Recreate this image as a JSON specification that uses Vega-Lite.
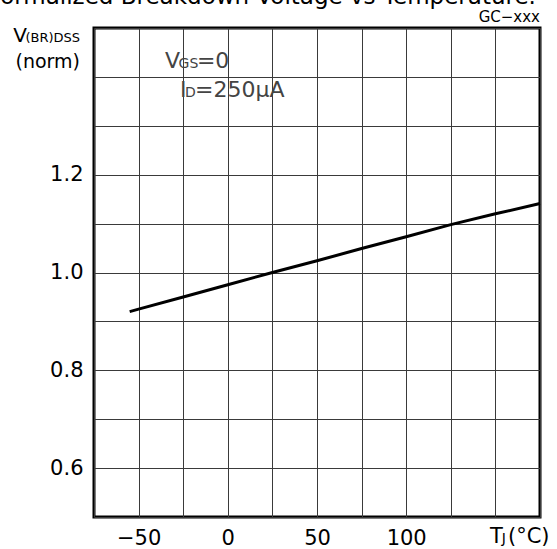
{
  "$schema": "https://vega.github.io/schema/vega-lite/v6.json",
  "width": 446,
  "height": 489,
  "autosize": {"type": "none"},
  "padding": {"left": 94, "top": 28, "right": 17, "bottom": 32},
  "background": "white",
  "title": {
    "text": "Normalized Breakdown Voltage vs Temperature.",
    "anchor": "start",
    "frame": "group",
    "orient": "top",
    "baseline": "alphabetic",
    "offset": 5,
    "dx": -111,
    "dy": 22,
    "font": "DejaVu Sans",
    "fontSize": 23,
    "fontWeight": "normal",
    "color": "black"
  },
  "config": {
    "view": {"stroke": "black", "strokeWidth": 3},
    "text": {"font": "DejaVu Sans", "color": "black", "align": "left", "baseline": "alphabetic"},
    "axis": {
      "domain": false,
      "ticks": false,
      "tickSize": 0,
      "grid": true,
      "gridColor": "#3a3a3a",
      "gridWidth": 1,
      "gridOpacity": 1,
      "labelFont": "DejaVu Sans",
      "labelFontSize": 21,
      "labelColor": "black",
      "labelOverlap": false,
      "labelFlush": false,
      "title": null
    }
  },
  "layer": [
    {
      "data": {
        "values": [
          {"tj": -55, "v": 0.920},
          {"tj": -50, "v": 0.925},
          {"tj": -25, "v": 0.950},
          {"tj": 0, "v": 0.975},
          {"tj": 25, "v": 1.000},
          {"tj": 50, "v": 1.024},
          {"tj": 75, "v": 1.049},
          {"tj": 100, "v": 1.073},
          {"tj": 125, "v": 1.098},
          {"tj": 150, "v": 1.120},
          {"tj": 175, "v": 1.141}
        ]
      },
      "mark": {"type": "line", "color": "black", "strokeWidth": 3},
      "encoding": {
        "x": {
          "field": "tj",
          "type": "quantitative",
          "scale": {"domain": [-75, 175], "nice": false, "zero": false},
          "axis": {
            "values": [-75, -50, -25, 0, 25, 50, 75, 100, 125, 150, 175],
            "labelExpr": "datum.value == -50 ? '−50' : (datum.value == 0 || datum.value == 50 || datum.value == 100) ? format(datum.value, 'd') : ''",
            "labelPadding": 10
          }
        },
        "y": {
          "field": "v",
          "type": "quantitative",
          "scale": {"domain": [0.5, 1.5], "nice": false, "zero": false},
          "axis": {
            "values": [0.5, 0.6, 0.7, 0.8, 0.9, 1.0, 1.1, 1.2, 1.3, 1.4, 1.5],
            "labelExpr": "(datum.value == 0.6 || datum.value == 0.8 || datum.value == 1 || datum.value == 1.2) ? format(datum.value, '.1f') : ''",
            "labelPadding": 11
          }
        }
      }
    },
    {
      "data": {"values": [{"label": "GC−xxx"}]},
      "mark": {"type": "text", "fontSize": 15, "align": "right"},
      "encoding": {"x": {"datum": 175, "type": "quantitative"}, "y": {"datum": 1.512, "type": "quantitative"}, "text": {"field": "label"}}
    },
    {
      "data": {"values": [{"label": "V"}]},
      "mark": {"type": "text", "fontSize": 20, "align": "right"},
      "encoding": {"x": {"datum": -112.6, "type": "quantitative"}, "y": {"datum": 1.4714, "type": "quantitative"}, "text": {"field": "label"}}
    },
    {
      "data": {"values": [{"label": "(BR)DSS"}]},
      "mark": {"type": "text", "fontSize": 13, "align": "right"},
      "encoding": {"x": {"datum": -82.85, "type": "quantitative"}, "y": {"datum": 1.4714, "type": "quantitative"}, "text": {"field": "label"}}
    },
    {
      "data": {"values": [{"label": "(norm)"}]},
      "mark": {"type": "text", "fontSize": 19, "align": "right"},
      "encoding": {"x": {"datum": -82.85, "type": "quantitative"}, "y": {"datum": 1.4182, "type": "quantitative"}, "text": {"field": "label"}}
    },
    {
      "data": {"values": [{"label": "V"}]},
      "mark": {"type": "text", "fontSize": 22, "color": "#444"},
      "encoding": {"x": {"datum": -35.2, "type": "quantitative"}, "y": {"datum": 1.4182, "type": "quantitative"}, "text": {"field": "label"}}
    },
    {
      "data": {"values": [{"label": "GS"}]},
      "mark": {"type": "text", "fontSize": 14, "color": "#444"},
      "encoding": {"x": {"datum": -27.6, "type": "quantitative"}, "y": {"datum": 1.4182, "type": "quantitative"}, "text": {"field": "label"}}
    },
    {
      "data": {"values": [{"label": "=0"}]},
      "mark": {"type": "text", "fontSize": 22, "color": "#444"},
      "encoding": {"x": {"datum": -17.3, "type": "quantitative"}, "y": {"datum": 1.4182, "type": "quantitative"}, "text": {"field": "label"}}
    },
    {
      "data": {"values": [{"label": "I"}]},
      "mark": {"type": "text", "fontSize": 22, "color": "#444"},
      "encoding": {"x": {"datum": -26.8, "type": "quantitative"}, "y": {"datum": 1.3589, "type": "quantitative"}, "text": {"field": "label"}}
    },
    {
      "data": {"values": [{"label": "D"}]},
      "mark": {"type": "text", "fontSize": 14, "color": "#444"},
      "encoding": {"x": {"datum": -24.0, "type": "quantitative"}, "y": {"datum": 1.3589, "type": "quantitative"}, "text": {"field": "label"}}
    },
    {
      "data": {"values": [{"label": "=250μA"}]},
      "mark": {"type": "text", "fontSize": 22, "color": "#444"},
      "encoding": {"x": {"datum": -18.4, "type": "quantitative"}, "y": {"datum": 1.3589, "type": "quantitative"}, "text": {"field": "label"}}
    },
    {
      "data": {"values": [{"label": "T"}]},
      "mark": {"type": "text", "fontSize": 21},
      "encoding": {"x": {"datum": 146.97, "type": "quantitative"}, "y": {"datum": 0.4468, "type": "quantitative"}, "text": {"field": "label"}}
    },
    {
      "data": {"values": [{"label": "J"}]},
      "mark": {"type": "text", "fontSize": 14},
      "encoding": {"x": {"datum": 153.6, "type": "quantitative"}, "y": {"datum": 0.4468, "type": "quantitative"}, "text": {"field": "label"}}
    },
    {
      "data": {"values": [{"label": "(°C)"}]},
      "mark": {"type": "text", "fontSize": 21},
      "encoding": {"x": {"datum": 157.06, "type": "quantitative"}, "y": {"datum": 0.4468, "type": "quantitative"}, "text": {"field": "label"}}
    }
  ]
}
